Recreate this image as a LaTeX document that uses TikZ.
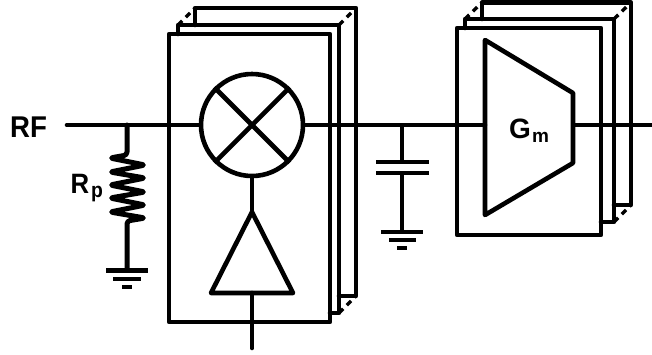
\documentclass[tikz,border=0pt]{standalone}
\usepackage{fontspec}
\setmainfont{Liberation Sans}
\tikzset{
  wire/.style={line width=4.6pt,line cap=round,line join=round},
  edge/.style={line width=3.4pt,dash pattern=on 6pt off 5pt,line cap=butt},
  lbl/.style={inner sep=0pt,font=\bfseries\fontsize{28}{28}\selectfont},
  tall/.style={xscale=.92,transform shape},
  sublbl/.style={inner sep=0pt,font=\bfseries\fontsize{19}{19}\selectfont},
}
\begin{document}
\begin{tikzpicture}[x=1pt,y=-1pt]
\useasboundingbox (0,0) rectangle (652,354);
% mixer stack
\draw[wire] (195,25) -- (195,8) -- (356,8) -- (356,296) -- (339,296);
\draw[wire] (178,34) -- (178,25) -- (339,25) -- (339,313) -- (330,313);
\draw[edge] (178,25) -- (195,8);
\draw[edge] (339,25) -- (356,8);
\draw[edge] (339,313) -- (356,296);
\draw[wire] (169,34) rectangle (330,322);
% Gm stack
\draw[wire] (482,19) -- (482,2.5) -- (631,2.5) -- (631,205) -- (614,205);
\draw[wire] (465,28) -- (465,19) -- (614,19) -- (614,222) -- (601,222);
\draw[edge] (465,19) -- (482,2.5);
\draw[edge] (614,19) -- (631,2.5);
\draw[edge] (614,222) -- (631,205);
\draw[wire] (457,28) rectangle (601,235);
% mixer
\node[draw,circle,line width=4.6pt,minimum size=102pt,inner sep=0pt] (mix) at (252,125) {};
\draw[wire,line cap=butt] (mix.north west) -- (mix.south east);
\draw[wire,line cap=butt] (mix.north east) -- (mix.south west);
% signal path
\coordinate (rfin) at (67,125);
\coordinate (tapr) at (127,125);
\coordinate (tapc) at (402,125);
\coordinate (out) at (652,125);
\draw[wire] (rfin) -- (mix.west);
\node[lbl,font=\bfseries\fontsize{30}{30}\selectfont,tall,anchor=base west] (rf) at (10,137) {RF};
% trapezoid
\coordinate (t1) at (485,40);
\coordinate (t2) at (573,93);
\coordinate (t3) at (573,163);
\coordinate (t4) at (485,215);
\draw[wire] (t1) -- (t2) -- (t3) -- (t4) -- cycle;
\draw[wire] (mix.east) -- (485,125);
\draw[wire,line cap=butt] (573,125) -- (out);
\node[lbl,anchor=base west] (gm) at (509,138) {G};
\node[sublbl,anchor=base west] (gmsub) at (532,142) {m};
% resistor
\draw[wire,line width=5pt,rounded corners=3pt] (tapr) -- (127,155) -- (110,158) -- (145,165) -- (110,172) -- (145,178) -- (110,185)
  -- (145,192) -- (110,198) -- (145,205) -- (110,212) -- (145,218) -- (127,221) -- (127,270);
\node[lbl,tall,anchor=base west] (rp) at (70.5,193) {R};
\node[sublbl,font=\bfseries\fontsize{21}{21}\selectfont,tall,anchor=base west] (rpsub) at (91,197.5) {p};
% ground R
\draw[wire,line cap=butt] (106,270.5) -- (148,270.5);
\draw[wire,line cap=butt] (113,279) -- (141,279);
\draw[wire,line cap=butt] (122,287) -- (132,287);
% capacitor
\draw[wire,line cap=butt] (tapc) -- (402,162);
\draw[wire,line cap=butt] (402,173) -- (402,232);
\draw[wire,line cap=butt] (376,162) -- (429,162);
\draw[wire,line cap=butt] (376,173) -- (429,173);
\draw[wire,line cap=butt] (381,232) -- (423,232);
\draw[wire,line cap=butt] (389,240) -- (416,240);
\draw[wire,line cap=butt] (397,248) -- (407,248);
% LO buffer
\coordinate (apex) at (252,212);
\coordinate (bl) at (211,293);
\coordinate (br) at (293,293);
\draw[wire] (apex) -- (br) -- (bl) -- cycle;
\draw[wire] (mix.south) -- (apex);
\coordinate (loin) at (252,348);
\draw[wire] (252,293) -- (loin);
\end{tikzpicture}
\end{document}
